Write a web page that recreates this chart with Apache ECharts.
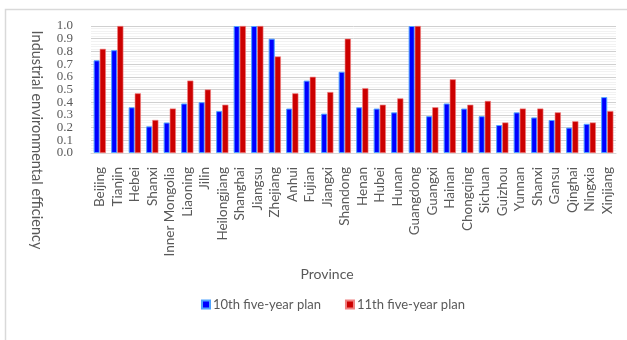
<!DOCTYPE html>
<html><head><meta charset="utf-8">
<script src="https://cdn.jsdelivr.net/npm/echarts@6/dist/echarts.min.js"></script>
<style>html,body{margin:0;padding:0;background:#fff}#c{width:627px;height:340px}</style>
</head><body><div id="c"></div>
<script>
const provinces = ["Beijing","Tianjin","Hebei","Shanxi","Inner Mongolia","Liaoning","Jilin","Heilongjiang","Shanghai","Jiangsu","Zhejiang","Anhui","Fujian","Jiangxi","Shandong","Henan","Hubei","Hunan","Guangdong","Guangxi","Hainan","Chongqing","Sichuan","Guizhou","Yunnan","Shanxi","Gansu","Qinghai","Ningxia","Xinjiang"];
const plan10 = [0.73,0.81,0.36,0.21,0.24,0.39,0.40,0.33,1.0,1.0,0.90,0.35,0.57,0.31,0.64,0.36,0.35,0.32,1.0,0.29,0.39,0.35,0.29,0.22,0.32,0.28,0.26,0.20,0.23,0.44];
const plan11 = [0.82,1.0,0.47,0.26,0.35,0.57,0.50,0.38,1.0,1.0,0.76,0.47,0.60,0.48,0.90,0.51,0.38,0.43,1.0,0.36,0.58,0.38,0.41,0.24,0.35,0.35,0.32,0.25,0.24,0.33];
const yTicks = {min:0, max:1.0, interval:0.1};
const labelStyle = {color:'#595959',fontFamily:'Liberation Serif',fontSize:13,margin:18};
const chart = echarts.init(document.getElementById('c'));
chart.setOption({
  animation:false,
  backgroundColor:'#fff',
  grid:{left:91,right:11,top:26,bottom:187},
  graphic:[
    {type:'polyline',z:-10,shape:{points:[[5.5,340],[5.5,9.5],[627,9.5]]},style:{fill:null,stroke:'#d9d9d9',lineWidth:1.5}},
    {type:'text',x:37,y:140,rotation:-Math.PI/2,style:{text:'Industrial environmental efficiency',fill:'#595959',font:'14.5px Lato',textAlign:'center',textVerticalAlign:'middle'}},
    {type:'text',x:327,y:274,style:{text:'Province',fill:'#595959',font:'14px Lato',textAlign:'center',textVerticalAlign:'middle'}}
  ],
  legend:{top:293,left:196,itemWidth:8,itemHeight:8,itemGap:24,icon:'rect',
    textStyle:{color:'#595959',fontFamily:'Lato',fontSize:13,padding:[0,0,0,-2]},
    data:['10th five-year plan','11th five-year plan']},
  xAxis:{type:'category',data:provinces,
    axisLine:{show:true,lineStyle:{color:'#d9d9d9'}},axisTick:{show:false},
    axisLabel:{rotate:90,interval:0,margin:14,color:'#595959',fontFamily:'Lato',fontSize:13.5}},
  yAxis:[
    {type:'value',min:yTicks.min,max:yTicks.max,interval:yTicks.interval,
      axisLine:{show:false},axisTick:{show:false},
      axisLabel:Object.assign({showMinLabel:false,showMaxLabel:false,formatter:v=>v.toFixed(1)},labelStyle),
      splitLine:{show:true,lineStyle:{color:'#d0d0d0',width:1,type:'solid'}},
      minorTick:{show:false,splitNumber:5},
      minorSplitLine:{show:true,lineStyle:{color:'#f2f2f2',width:1}}},
    {type:'value',position:'left',min:yTicks.min,max:yTicks.max,interval:yTicks.interval,
      axisLine:{show:false},axisTick:{show:false},splitLine:{show:false},
      axisLabel:Object.assign({showMinLabel:true,showMaxLabel:true,formatter:v=>(Math.abs(v-yTicks.min)<1e-9||Math.abs(v-yTicks.max)<1e-9)?v.toFixed(1):''},labelStyle)}
  ],
  series:[
    {name:'10th five-year plan',type:'bar',yAxisIndex:0,data:plan10,barGap:'0%',barCategoryGap:'30%',
      itemStyle:{color:'#0000ff',borderColor:'#4fa3ff',borderWidth:1}},
    {name:'11th five-year plan',type:'bar',yAxisIndex:0,data:plan11,
      itemStyle:{color:'#cc0000',borderColor:'#f08080',borderWidth:0.6}}
  ]
});
</script></body></html>
